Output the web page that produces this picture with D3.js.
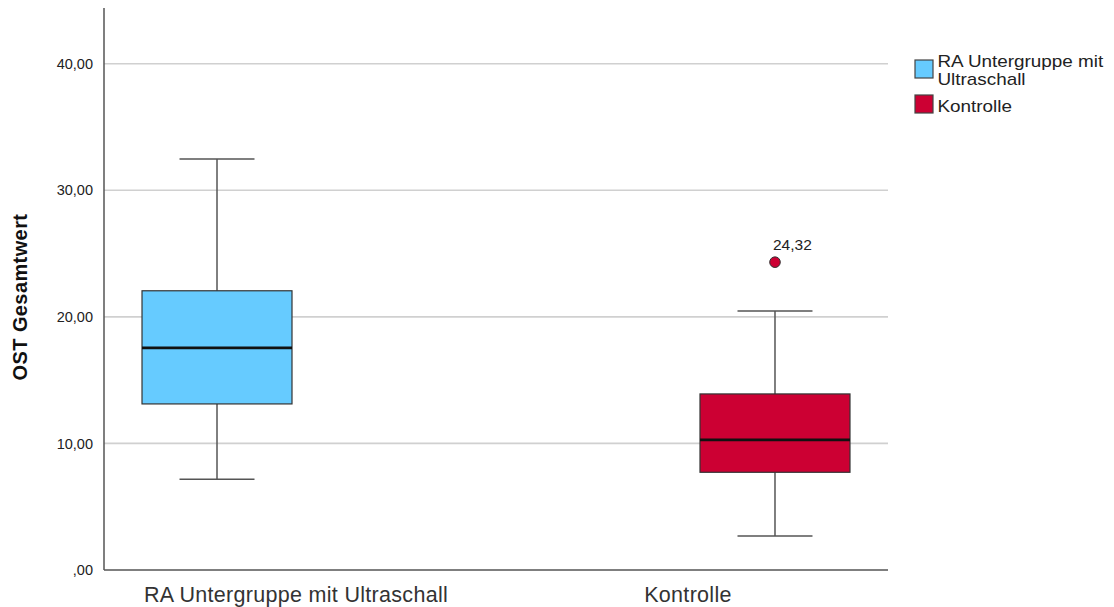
<!DOCTYPE html>
<html>
<head>
<meta charset="utf-8">
<script src="https://cdn.jsdelivr.net/npm/d3@7/dist/d3.min.js"></script>
<style>
  body { margin: 0; background: #fff; }
  svg { display: block; font-family: "Liberation Sans", Arial, sans-serif; }
</style>
</head>
<body>
<svg id="chart" width="1114" height="607"></svg>
<script>
// Groups on the x axis and the legend series
const categories = ["RA Untergruppe mit Ultraschall", "Kontrolle"];
const series = ["RA Untergruppe mit Ultraschall", "Kontrolle"];
const legendLabels = [["RA Untergruppe mit", "Ultraschall"], ["Kontrolle"]];
const seriesColors = ["#66cbff", "#cc0033"];

// Five-number summaries per group: [lower whisker, Q1, median, Q3, upper whisker]
const whiskerLow = [7.17, 2.69];
const q1 = [13.12, 7.72];
const median = [17.55, 10.28];
const q3 = [22.06, 13.91];
const whiskerHigh = [32.47, 20.47];

// Outliers: group index, value, label
const outlierGroup = [1];
const outlierValue = [24.32];
const outlierLabel = ["24,32"];

const yTicks = [0, 10, 20, 30, 40];
const yMax = 44.4;
const yTitle = "OST Gesamtwert";

const svg = d3.select("#chart");
const margin = { left: 104, right: 226, top: 8, bottom: 36 };
const W = 1114, H = 607;
const x0 = margin.left, x1 = W - margin.right;
const yBottom = H - margin.bottom - 1;

const x = d3.scaleBand().domain(categories).range([x0, x1]).padding(0);
// two cluster slots inside each category; only the matching series has data
const xSub = d3.scaleBand().domain(series).range([0, x.bandwidth()])
  .paddingInner(0.0964).paddingOuter(0.229);
const y = d3.scaleLinear().domain([0, yMax]).range([yBottom, margin.top]);

const fmt = v => (v === 0 ? ",00" : d3.format(".2f")(v).replace(".", ","));

// Gridlines
svg.append("g").selectAll("line").data(yTicks.filter(t => t > 0)).join("line")
  .attr("x1", x0).attr("x2", x1)
  .attr("y1", d => y(d)).attr("y2", d => y(d))
  .attr("stroke", "#d0d0d0").attr("stroke-width", 1.6);

// Y axis
const yAxis = svg.append("g").attr("transform", `translate(${x0},0)`)
  .call(d3.axisLeft(y).tickValues(yTicks).tickFormat(fmt).tickSize(0).tickPadding(11));
yAxis.select(".domain").remove();
yAxis.selectAll("text").attr("font-size", 14.5).attr("fill", "#222")
  .attr("font-family", "Liberation Sans, Arial, sans-serif");

// X axis
const xAxis = svg.append("g").attr("transform", `translate(0,${yBottom})`)
  .call(d3.axisBottom(x).tickSize(0));
xAxis.select(".domain").remove();
xAxis.selectAll("text").attr("font-size", 21.5).attr("fill", "#333")
  .attr("font-family", "Liberation Sans, Arial, sans-serif")
  .attr("letter-spacing", 0.3)
  .attr("y", 32).attr("dy", 0).attr("dx", -4);

// Axis lines
svg.append("line").attr("x1", x0).attr("x2", x0).attr("y1", margin.top).attr("y2", yBottom)
  .attr("stroke", "#555").attr("stroke-width", 1.5);
svg.append("line").attr("x1", x0).attr("x2", x1).attr("y1", yBottom).attr("y2", yBottom)
  .attr("stroke", "#555").attr("stroke-width", 1.5);

// Y title
svg.append("text")
  .attr("transform", `translate(27,${(y(0) + y(yMax)) / 2 + 8}) rotate(-90)`)
  .attr("text-anchor", "middle").attr("font-size", 20).attr("font-weight", "bold")
  .attr("letter-spacing", 0.4)
  .attr("fill", "#111").text(yTitle);

// Boxes
const boxes = categories.map((c, i) => ({
  cat: c, ser: series[i], color: seriesColors[i],
  lo: whiskerLow[i], q1: q1[i], med: median[i], q3: q3[i], hi: whiskerHigh[i]
}));

const g = svg.append("g").selectAll("g").data(boxes).join("g")
  .attr("transform", d => `translate(${x(d.cat) + xSub(d.ser)},0)`);
const bw = xSub.bandwidth();
const cx = bw / 2;
const capW = bw / 2;

g.append("line").attr("x1", cx).attr("x2", cx).attr("y1", d => y(d.hi)).attr("y2", d => y(d.q3))
  .attr("stroke", "#555").attr("stroke-width", 1.5);
g.append("line").attr("x1", cx).attr("x2", cx).attr("y1", d => y(d.q1)).attr("y2", d => y(d.lo))
  .attr("stroke", "#555").attr("stroke-width", 1.5);
g.append("line").attr("x1", cx - capW / 2).attr("x2", cx + capW / 2)
  .attr("y1", d => y(d.hi)).attr("y2", d => y(d.hi)).attr("stroke", "#555").attr("stroke-width", 1.5);
g.append("line").attr("x1", cx - capW / 2).attr("x2", cx + capW / 2)
  .attr("y1", d => y(d.lo)).attr("y2", d => y(d.lo)).attr("stroke", "#555").attr("stroke-width", 1.5);
g.append("rect").attr("x", 0).attr("width", bw)
  .attr("y", d => y(d.q3)).attr("height", d => y(d.q1) - y(d.q3))
  .attr("fill", d => d.color).attr("stroke", "#333").attr("stroke-width", 1.2);
g.append("line").attr("x1", 0).attr("x2", bw)
  .attr("y1", d => y(d.med)).attr("y2", d => y(d.med)).attr("stroke", "#111").attr("stroke-width", 2.6);

// Outliers
const outliers = outlierGroup.map((gi, k) => ({ gi, v: outlierValue[k], label: outlierLabel[k] }));
const og = svg.append("g").selectAll("g").data(outliers).join("g")
  .attr("transform", d => `translate(${x(categories[d.gi]) + xSub(series[d.gi]) + bw / 2},${y(d.v)})`);
og.append("circle").attr("r", 5.3).attr("fill", d => seriesColors[d.gi]).attr("stroke", "#333").attr("stroke-width", 1);
og.append("text").attr("x", -2).attr("y", -12).attr("font-size", 15.5).attr("fill", "#222").text(d => d.label);

// Legend
const leg = svg.append("g").attr("transform", "translate(915,60)");
const rows = [0, 35];
series.forEach((s, i) => {
  const r = leg.append("g").attr("transform", `translate(0,${rows[i]})`);
  r.append("rect").attr("x", 0).attr("y", 0).attr("width", 18).attr("height", 18)
    .attr("fill", seriesColors[i]).attr("stroke", "#444").attr("stroke-width", 1.2);
  const lines = legendLabels[i];
  lines.forEach((t, j) => {
    const base = lines.length === 1 ? 17 : 6.5 + j * 18.5;
    r.append("text")
      .attr("transform", `translate(22.5,${base}) scale(1.18,1)`)
      .attr("font-size", 16).attr("fill", "#222").text(t);
  });
});
</script>
</body>
</html>
